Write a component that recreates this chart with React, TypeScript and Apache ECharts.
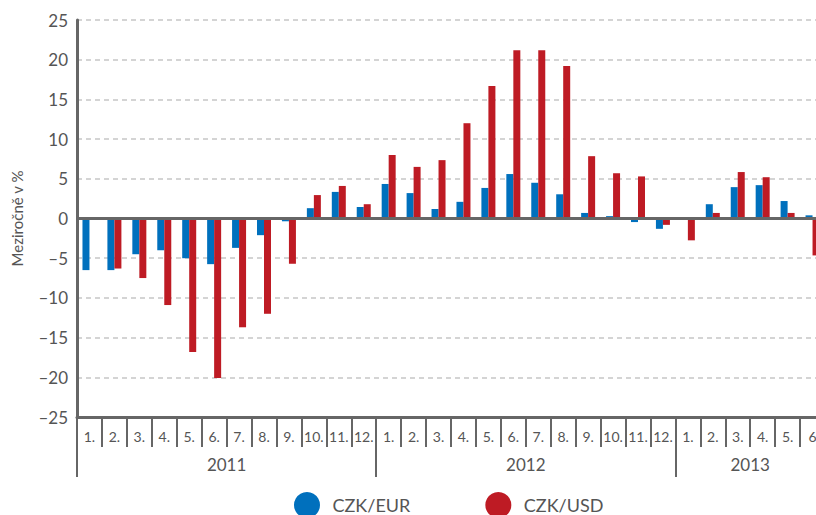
import React, { useEffect, useRef } from "react";
import * as echarts from "echarts";

const months: string[] = [
  "1.", "2.", "3.", "4.", "5.", "6.", "7.", "8.", "9.", "10.", "11.", "12.",
  "1.", "2.", "3.", "4.", "5.", "6.", "7.", "8.", "9.", "10.", "11.", "12.",
  "1.", "2.", "3.", "4.", "5.", "6",
];
const yearLabels: string[] = ["2011", "2012", "2013"];
const yearLabelIdx: number[] = [6, 18, 27];
const yearTickIdx: number[] = [0, 12, 24, 30];

const czkEur: number[] = [
  -6.5, -6.5, -4.5, -4.0, -5.0, -5.75, -3.7, -2.1, -0.35, 1.3, 3.35, 1.45,
  4.35, 3.2, 1.2, 2.1, 3.85, 5.6, 4.5, 3.05, 0.7, 0.3, -0.45, -1.3,
  0, 1.8, 3.95, 4.2, 2.2, 0.4,
];
const czkUsd: number[] = [
  0, -6.3, -7.5, -10.9, -16.8, -20.1, -13.7, -12.0, -5.7, 2.95, 4.1, 1.8,
  8.0, 6.5, 7.35, 12.0, 16.7, 21.2, 21.2, 19.2, 7.85, 5.7, 5.3, -0.8,
  -2.75, 0.7, 5.85, 5.2, 0.7, -4.65,
];

const FONT = "Lato, 'DejaVu Sans', sans-serif";
const TXT = "#555555";
const AX = "#666666";

export default function App() {
  const ref = useRef<HTMLDivElement>(null);
  useEffect(() => {
    if (!ref.current) return;
    const chart = echarts.init(ref.current, undefined, { renderer: "svg" });
    const yearData: string[] = [];
    for (let i = 0; i <= months.length; i++) {
      const k = yearLabelIdx.indexOf(i);
      yearData.push(k >= 0 ? yearLabels[k] : "");
    }
    chart.setOption({
      animation: false,
      textStyle: { fontFamily: FONT },
      grid: { left: 77, top: 20, width: 748, height: 397, outerBoundsMode: "none", containLabel: false },
      legend: {
        left: 294,
        top: 492,
        padding: 0,
        itemWidth: 41,
        itemHeight: 26,
        itemGap: 75,
        icon: "circle",
        textStyle: { fontSize: 18, color: TXT, fontFamily: FONT },
        data: ["CZK/EUR", "CZK/USD"],
      },
      xAxis: [
        {
          type: "category",
          data: months,
          position: "bottom",
          boundaryGap: true,
          axisLine: { onZero: false, lineStyle: { color: AX, width: 3 } },
          axisTick: { show: true, interval: 0, length: 30, lineStyle: { color: AX, width: 2 } },
          axisLabel: { interval: 0, fontSize: 14, color: TXT, margin: 12, fontFamily: FONT },
          splitLine: { show: false },
        },
        {
          type: "category",
          data: yearData,
          position: "bottom",
          boundaryGap: false,
          axisLine: { show: false, onZero: false },
          axisTick: {
            show: true,
            length: 60,
            interval: (i: number) => yearTickIdx.indexOf(i) >= 0,
            lineStyle: { color: AX, width: 2 },
          },
          axisLabel: {
            interval: (i: number) => yearLabelIdx.indexOf(i) >= 0,
            fontSize: 17,
            color: TXT,
            margin: 39,
            fontFamily: FONT,
          },
          splitLine: { show: false },
        },
      ],
      yAxis: {
        type: "value",
        min: -25,
        max: 25,
        interval: 5,
        name: "Meziročně v %",
        nameLocation: "middle",
        nameGap: 53,
        nameTextStyle: { fontSize: 15, color: TXT, fontFamily: FONT },
        axisLine: { show: true, lineStyle: { color: AX, width: 3 } },
        axisTick: { show: false },
        axisLabel: {
          fontSize: 17,
          color: TXT,
          margin: 9,
          fontFamily: FONT,
          formatter: (v: number) => String(v).replace("-", "–"),
        },
        splitLine: { show: true, lineStyle: { color: "#c6c6c6", type: [5, 4], width: 1.5 } },
      },
      series: [
        {
          name: "CZK/EUR",
          type: "bar",
          data: czkEur,
          barWidth: 7,
          barGap: "0%",
          itemStyle: { color: "#0070bd" },
          markLine: {
            silent: true,
            symbol: "none",
            label: { show: false },
            lineStyle: { color: AX, width: 3, type: "solid" },
            data: [{ yAxis: 0 }],
          },
        },
        {
          name: "CZK/USD",
          type: "bar",
          data: czkUsd,
          barWidth: 7,
          barGap: "0%",
          itemStyle: { color: "#be1b24" },
        },
      ],
    });
    return () => chart.dispose();
  }, []);
  return (
    <div
      ref={ref}
      style={{ position: "absolute", left: 0, top: 0, width: 816, height: 515 }}
    />
  );
}
